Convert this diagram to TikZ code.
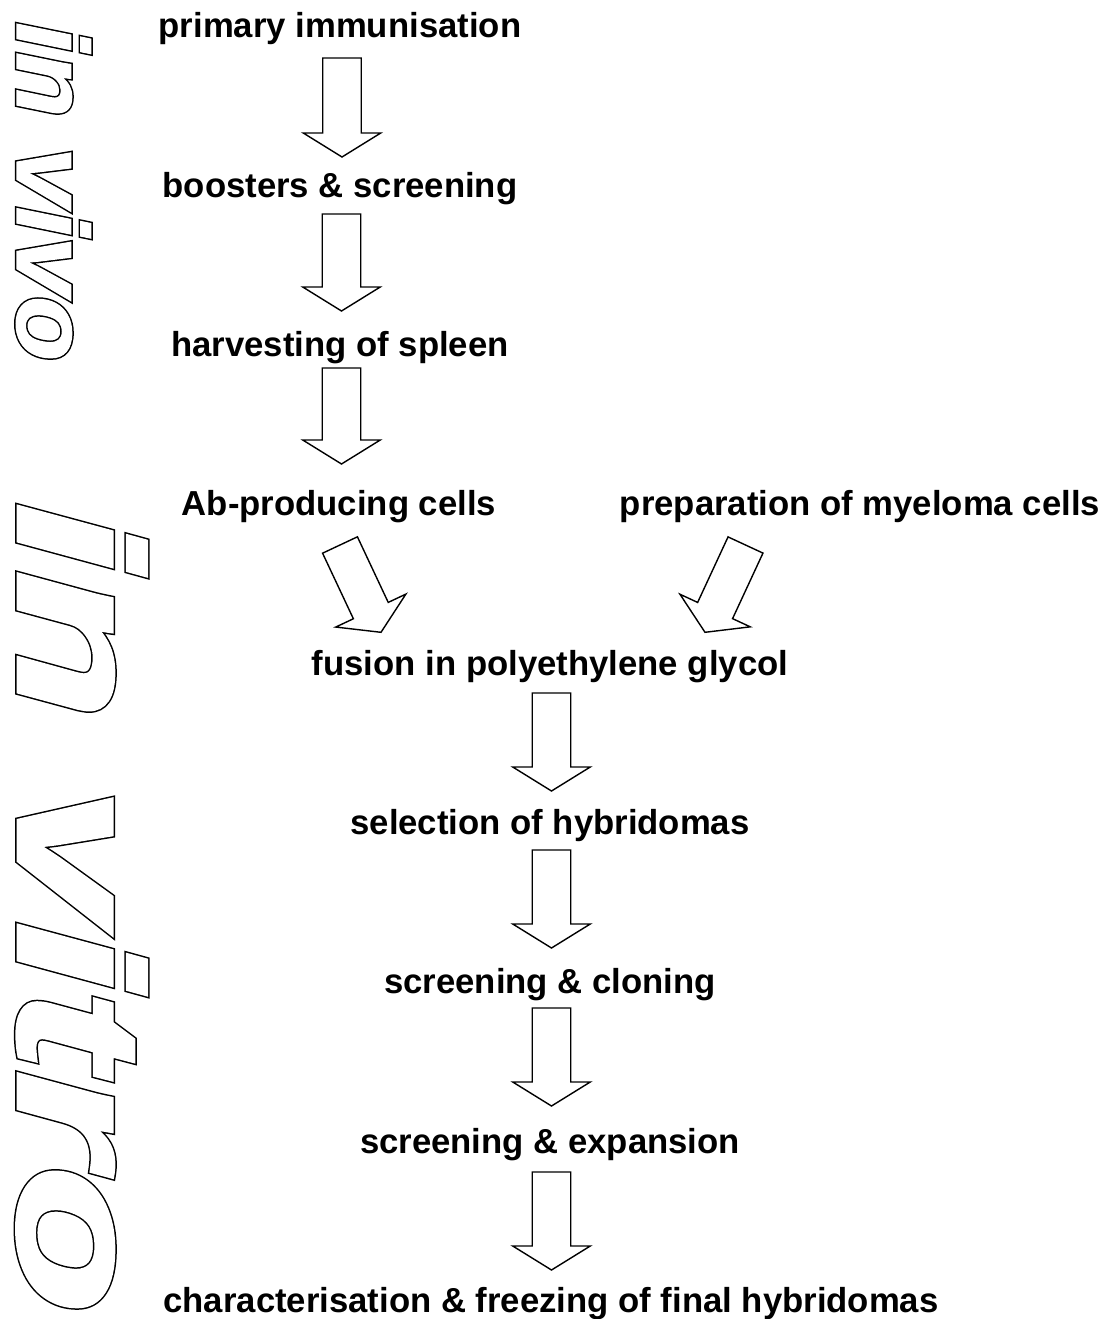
\documentclass[tikz,border=0pt]{standalone}
\usepackage{fontspec}
\setmainfont{Liberation Sans}
\newfontfamily\vivofont{Liberation Sans}[FakeStretch=1.05]
\newfontfamily\vitrofont{Liberation Sans}[FakeStretch=1.39]
\usetikzlibrary{calc}
% emboldened outline text: black wide stroke below, white narrower stroke on top
\newcommand\fatoutline[3]{\rlap{\special{pdf:literal direct 2 Tr #1 w 0 g 0 G 0 j 4 M}#3}\special{pdf:literal direct 2 Tr #2 w 1 g 1 G 0 j 4 M}#3\special{pdf:literal direct 0 Tr 0 g 0 G}}
\newcommand\blockarrow[2]{%
  \coordinate (ba-h) at ($(#2)!24pt!(#1)$);
  \draw[barrow] ($(#1)!19.25pt!90:(#2)$) -- ($(ba-h)!19.25pt!90:(#2)$) -- ($(ba-h)!38.75pt!90:(#2)$) -- (#2)
     -- ($(ba-h)!38.75pt!-90:(#2)$) -- ($(ba-h)!19.25pt!-90:(#2)$) -- ($(#1)!19.25pt!-90:(#2)$) -- cycle;}
\tikzset{
  flowtext/.style={font=\bfseries\fontsize{34.7}{40}\selectfont, anchor=base, inner sep=0pt},
  barrow/.style={draw=black, fill=white, line width=1.4pt, line join=miter},
  wordart/.style={anchor=base west, rotate=-90, inner sep=0pt},
}
\begin{document}
\begin{tikzpicture}[x=1pt,y=-1pt]
\useasboundingbox[fill=white] (0,0) rectangle (1114,1319);
% vertical outlined labels
\node[wordart] (vivo) at (17,22) {\vivofont\bfseries\itshape\fontsize{102}{102}\selectfont\fatoutline{4}{1}{in vivo}};
\node[wordart] (vitro) at (19,503) {\vitrofont\bfseries\itshape\fontsize{175}{175}\selectfont\fatoutline{7.5}{4.5}{in vitro}};
% steps
\node[flowtext] (t1) at (340,38) {primary immunisation};
\node[flowtext] (t2) at (340,197) {boosters \& screening};
\node[flowtext] (t3) at (340,356) {harvesting of spleen};
\node[flowtext] (t4) at (339,515) {Ab-producing cells};
\node[flowtext] (t5) at (860,515) {preparation of myeloma cells};
\node[flowtext] (t6) at (550,675) {fusion in polyethylene glycol};
\node[flowtext] (t7) at (550,834) {selection of hybridomas};
\node[flowtext] (t8) at (550,993) {screening \& cloning};
\node[flowtext] (t9) at (550,1153) {screening \& expansion};
\node[flowtext] (t10) at (551,1312) {characterisation \& freezing of final hybridomas};
% arrow end points
\coordinate (a1s) at (342,58);    \coordinate (a1e) at (342,157);
\coordinate (a2s) at (341.5,214); \coordinate (a2e) at (341.5,311);
\coordinate (a3s) at (341.5,368); \coordinate (a3e) at (341.5,464);
\coordinate (d1s) at (340,545);   \coordinate (d1e) at (381,632.3);
\coordinate (d2s) at (745.5,545); \coordinate (d2e) at (705,632.3);
\coordinate (a4s) at (551.5,693); \coordinate (a4e) at (551.5,791);
\coordinate (a5s) at (551.5,850); \coordinate (a5e) at (551.5,948);
\coordinate (a6s) at (551.5,1008);\coordinate (a6e) at (551.5,1106);
\coordinate (a7s) at (551.5,1172);\coordinate (a7e) at (551.5,1270);
\blockarrow{a1s}{a1e}
\blockarrow{a2s}{a2e}
\blockarrow{a3s}{a3e}
\blockarrow{d1s}{d1e}
\blockarrow{d2s}{d2e}
\blockarrow{a4s}{a4e}
\blockarrow{a5s}{a5e}
\blockarrow{a6s}{a6e}
\blockarrow{a7s}{a7e}
\end{tikzpicture}
\end{document}
